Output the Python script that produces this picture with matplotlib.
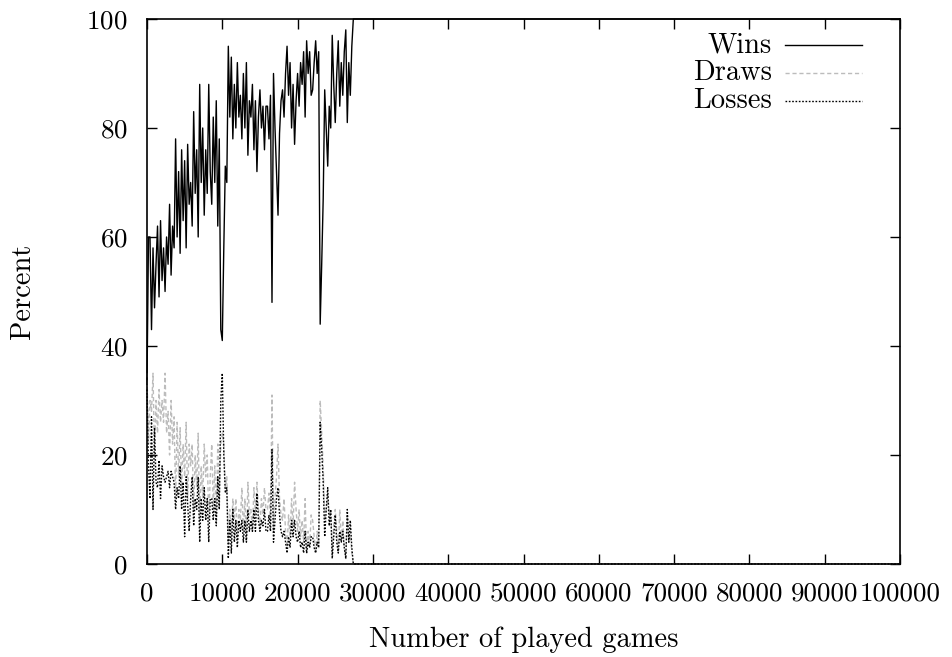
import numpy as np
import matplotlib
matplotlib.use("Agg")
import matplotlib.pyplot as plt
from matplotlib.lines import Line2D

plt.rcParams['font.family'] = ['cmr10', 'DejaVu Serif']
plt.rcParams['mathtext.fontset'] = 'cm'
plt.rcParams['axes.formatter.use_mathtext'] = True
plt.rcParams['axes.unicode_minus'] = False

# games played (every 200 games), last record at 100000
games = list(range(0, 27600, 200)) + [100000]

wins = [33, 60, 60, 43, 58, 47, 55, 62, 49, 63,
        52, 58, 50, 60, 55, 66, 53, 62, 58, 78,
        60, 72, 57, 76, 63, 74, 58, 77, 66, 70,
        62, 83, 68, 76, 60, 88, 70, 80, 64, 76,
        68, 88, 72, 66, 82, 70, 85, 62, 78, 43,
        41, 58, 73, 70, 95, 82, 93, 78, 88, 80,
        92, 82, 86, 78, 90, 80, 92, 75, 85, 82,
        88, 76, 85, 72, 82, 87, 80, 84, 76, 84,
        84, 78, 86, 48, 90, 80, 72, 64, 79, 85,
        87, 82, 90, 95, 86, 92, 80, 88, 77, 85,
        90, 84, 92, 88, 94, 82, 96, 90, 94, 86,
        87, 92, 96, 90, 94, 44, 55, 67, 87, 80,
        73, 84, 80, 97, 88, 81, 90, 96, 84, 92,
        86, 94, 98, 81, 92, 86, 95, 100,
        100]

draws = [35, 22, 30, 28, 35, 20, 30, 24, 32, 26,
         30, 26, 35, 24, 28, 20, 30, 22, 27, 12,
         26, 16, 25, 14, 22, 16, 26, 12, 22, 18,
         22, 10, 20, 14, 24, 8, 18, 12, 22, 16,
         20, 8, 16, 22, 10, 18, 8, 22, 12, 22,
         24, 22, 14, 16, 4, 10, 5, 12, 8, 12,
         5, 10, 8, 14, 6, 12, 4, 15, 9, 10,
         6, 14, 9, 15, 10, 7, 12, 9, 14, 10,
         10, 13, 8, 31, 6, 12, 16, 22, 12, 9,
         8, 12, 6, 3, 9, 5, 12, 7, 15, 10,
         6, 10, 5, 8, 4, 12, 2, 6, 3, 9,
         8, 5, 2, 6, 3, 30, 24, 18, 8, 10,
         13, 9, 10, 2, 7, 10, 6, 2, 10, 4,
         8, 3, 1, 9, 4, 6, 2, 0,
         0]

losses = [32, 18, 12, 27, 10, 25, 15, 14, 19, 12,
          18, 16, 15, 16, 17, 14, 17, 16, 15, 10,
          14, 12, 18, 10, 15, 5, 16, 11, 6, 12,
          16, 7, 12, 10, 16, 4, 12, 8, 14, 8,
          12, 4, 12, 12, 8, 12, 7, 16, 10, 30,
          35, 20, 13, 14, 1, 8, 2, 10, 4, 8,
          3, 8, 6, 8, 4, 8, 4, 10, 6, 8,
          6, 10, 6, 13, 8, 6, 8, 7, 10, 6,
          6, 9, 6, 21, 4, 8, 12, 14, 9, 6,
          5, 6, 4, 2, 5, 3, 8, 5, 8, 5,
          4, 6, 3, 4, 2, 6, 2, 4, 3, 5,
          5, 3, 2, 4, 3, 26, 21, 15, 5, 10,
          14, 7, 10, 1, 5, 9, 4, 2, 6, 4,
          6, 3, 1, 10, 4, 8, 3, 0,
          0]

labels = ["Wins", "Draws", "Losses"]
colors = ["black", "#bcbcbc", "black"]
styles = ["-", (0, (3, 2)), (0, (1.2, 1.2))]

fig = plt.figure(figsize=(9.52, 6.57), dpi=100)
ax = fig.add_axes([0.1544, 0.1416, 0.7910, 0.8295])

for series, c, ls in zip([wins, draws, losses], colors, styles):
    ax.plot(games, series, color=c, linestyle=ls, linewidth=1.0, clip_on=False)

ax.set_xlim(0, 100000)
ax.set_ylim(0, 100)
ax.set_xticks(np.arange(0, 100001, 10000))
ax.set_yticks(np.arange(0, 101, 20))
ax.set_xticklabels([str(v) for v in range(0, 100001, 10000)])
ax.tick_params(direction='in', length=7, width=1, top=True, right=True,
               labelsize=19.5)
ax.tick_params(axis='x', pad=13)
ax.tick_params(axis='y', pad=14)
for s in ax.spines.values():
    s.set_linewidth(1.2)

ax.set_xlabel("Number of played games", fontsize=20.5, labelpad=15)
ax.set_ylabel("Percent", fontsize=20.5, labelpad=36)

# gnuplot style key: right aligned text, sample line on the right
key_y = [0.952, 0.901, 0.850]
for lab, c, ls, yy in zip(labels, colors, styles, key_y):
    ax.text(0.830, yy, lab, transform=ax.transAxes, ha='right', va='center',
            fontsize=20.5)
    ax.add_line(Line2D([0.847, 0.950], [yy, yy], transform=ax.transAxes,
                       color=c, linestyle=ls, linewidth=1.0))

fig.savefig("out.png", dpi=100)
